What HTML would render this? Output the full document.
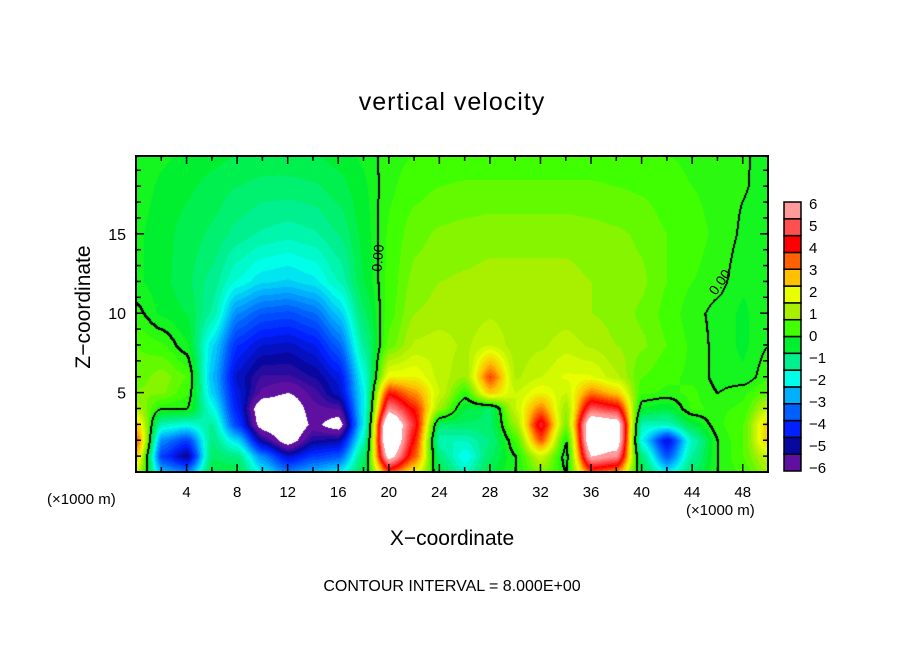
<!DOCTYPE html>
<html><head><meta charset="utf-8">
<style>
body{margin:0;background:#fff;width:904px;height:654px;overflow:hidden;position:relative;font-family:"Liberation Sans","DejaVu Sans",sans-serif}
.t{position:absolute;white-space:nowrap;color:#000}
canvas{position:absolute;left:136px;top:156px}
svg{position:absolute;left:0;top:0}
</style></head><body>
<div class="t" style="left:0;width:904px;text-align:center;top:88px;font-size:25px;letter-spacing:1px">vertical velocity</div>
<canvas id="cv" width="632" height="316"></canvas>
<svg id="sv" width="904" height="654"></svg>
<div class="t" style="left:24px;top:300px;font-size:21px;transform:rotate(-90deg);transform-origin:60px 12px;width:130px;text-align:center">Z−coordinate</div>
<div class="t" style="left:0;width:904px;text-align:center;top:527px;font-size:21px">X−coordinate</div>
<div class="t" style="left:47px;top:491px;font-size:15px">(×1000 m)</div>
<div class="t" style="left:686px;top:502px;font-size:15px">(×1000 m)</div>
<div class="t" style="left:0;width:904px;text-align:center;top:578px;font-size:16px">CONTOUR INTERVAL = 8.000E+00</div>
<div class="t" style="left:364px;top:250px;font-size:14px;transform:rotate(-85deg)">0.00</div>
<div class="t" style="left:706px;top:274px;font-size:14px;transform:rotate(-55deg)">0.00</div>
<script>
const xCols=[0,2,4,6,8,10,12,14,16,18,20,22,24,26,28,30,32,34,36,38,40,42,44,46,48,50];
const zRows=[0,1,2,3,4,5,6,8,10,12,15,18,20];
const field=[
[1.5,-2.5,-3,-0.5,-0.5,-2,-3,-2.5,-2,-0.5,3.5,2,-0.5,-1.5,-0.5,0,0.8,0,3.5,3,-0.5,-2,-0.8,0,0.3,1],
[2.5,-3.8,-5,-0.8,-1,-3,-4.5,-3.8,-3.5,-0.8,6.5,3.5,-1,-2,-0.8,0,1.5,-0.2,6,5.5,-1,-3.5,-1.2,0,0.5,1.5],
[3.5,-3,-3.8,-1,-2.2,-5,-6.5,-5,-4.8,-1.5,7.8,4,-1.5,-1.5,-1,0.3,3.5,0,7.2,6.8,-2,-4.5,-1.5,0,0.5,2.5],
[2.5,-1.5,-1.8,-1.2,-3.8,-6.5,-7.2,-5.8,-6.5,-2,7.8,4.5,-0.8,-0.8,-0.8,1,4.5,0.8,7.2,6.8,-1.5,-1.5,-0.5,0.2,0.5,2.5],
[1.2,0,0,-1.8,-4.2,-6.8,-6.8,-5.6,-5.5,-2,5.5,4,1,-0.5,-0.8,1.5,3.2,1,5,4.5,-0.3,-0.5,0.3,0.2,0.3,1.5],
[0.8,0.8,0.3,-2.3,-4.4,-5.6,-6,-5.4,-4.6,-2,4,3,1.5,0.2,2.5,1.5,2,1.5,3.2,2.5,0.3,0.2,0.3,0,0.2,0.6],
[0.6,0.9,0.5,-2.5,-4.6,-5.3,-5.3,-5,-4.4,-1.8,2,2,1.4,1,3.6,1.2,1.5,1.8,1.8,1.3,0.5,0.3,0.2,-0.1,-0.2,0.2],
[0.5,0.3,-0.2,-2.2,-4,-4.5,-4.6,-4.3,-3.4,-1.2,0.6,1.3,1.4,1.2,1.5,1.1,1.2,1.4,1.2,1,0.8,0.5,0.2,-0.1,-0.3,0],
[0.1,-0.3,-0.5,-1.3,-3,-3.5,-3.6,-3.3,-2.4,-0.8,0.4,1,1.1,1.1,1.2,1.1,1.1,1.1,1,0.9,0.7,0.4,0.1,-0.1,-0.3,0],
[-0.2,-0.4,-0.7,-1.1,-1.8,-2.2,-2.3,-2.1,-1.5,-0.5,0.35,0.85,1,1.05,1.1,1.1,1.1,1.1,1,0.95,0.8,0.5,0.25,0.1,-0.2,-0.2],
[-0.2,-0.4,-0.6,-0.8,-1.1,-1.3,-1.4,-1.3,-1,-0.4,0.3,0.65,0.8,0.85,0.9,0.9,0.9,0.9,0.85,0.8,0.7,0.5,0.35,0.2,-0.05,-0.2],
[-0.1,-0.3,-0.45,-0.6,-0.75,-0.85,-0.85,-0.8,-0.6,-0.3,0.2,0.4,0.5,0.55,0.55,0.55,0.55,0.55,0.55,0.5,0.45,0.35,0.25,0.15,0.02,-0.1],
[0,-0.2,-0.3,-0.4,-0.5,-0.55,-0.55,-0.5,-0.4,-0.2,0.15,0.25,0.3,0.3,0.3,0.3,0.3,0.3,0.3,0.3,0.3,0.25,0.2,0.12,0.03,-0.1]
];
const levelColors=['#6010a0','#0808a0','#0020ff','#0060ff','#00b0ff','#00ffe8','#00f090','#00f030','#40ff00','#a8f000','#e8ff00','#ffc000','#ff6000','#ff0000','#ff5050','#ff9a9a'];
const cbLabels=['6','5','4','3','2','1','0','−1','−2','−3','−4','−5','−6'];
const xTickLabels=['4','8','12','16','20','24','28','32','36','40','44','48'];
const yTickLabels=['5','10','15'];
const X0=136,X1=768,Y0=156,Y1=472,XMAX=50,ZMAX=19.9;
const sx=x=>X0+(x/XMAX)*(X1-X0), sz=z=>Y1-(z/ZMAX)*(Y1-Y0);
function hex(c){return [parseInt(c.substr(1,2),16),parseInt(c.substr(3,2),16),parseInt(c.substr(5,2),16)];}
const rgb=levelColors.map(hex);
function colorOf(v){
  if(v>6||v<-6)return [255,255,255];
  let p=(v+6)/0.75-0.5;
  p=Math.round(p*3)/3;
  let i=Math.floor(p),t=p-i;
  if(i<0)return rgb[0]; if(i>=15)return rgb[15];
  const a=rgb[i],b=rgb[i+1];
  return [a[0]+(b[0]-a[0])*t,a[1]+(b[1]-a[1])*t,a[2]+(b[2]-a[2])*t];
}
function val(x,z){
  let fx=x/2; let i=Math.min(Math.floor(fx),xCols.length-2); let tx=fx-i;
  let j=0; while(j<zRows.length-2 && z>zRows[j+1]) j++;
  let tz=Math.max(0,Math.min(1,(z-zRows[j])/(zRows[j+1]-zRows[j])));
  tx=tx*tx*(3-2*tx)*0.5+tx*0.5;
  const a=field[j][i],b=field[j][i+1],c=field[j+1][i],d=field[j+1][i+1];
  return (a*(1-tx)+b*tx)*(1-tz)+(c*(1-tx)+d*tx)*tz;
}
const cv=document.getElementById('cv'),ctx=cv.getContext('2d');
const W=632,H=316,img=ctx.createImageData(W,H),V=new Float32Array(W*H);
for(let py=0;py<H;py++)for(let px=0;px<W;px++){V[py*W+px]=val(px/W*XMAX,(H-py)/H*ZMAX);}
for(let k=0;k<W*H;k++){
  const c=colorOf(V[k]);
  img.data[k*4]=c[0];img.data[k*4+1]=c[1];img.data[k*4+2]=c[2];img.data[k*4+3]=255;
}
function mark(k){img.data[k*4]=0;img.data[k*4+1]=0;img.data[k*4+2]=0;}
for(let py=0;py<H-1;py++)for(let px=0;px<W-1;px++){
  const k=py*W+px,v=V[k],r=V[k+1],d=V[k+W];
  if((v>=0)!=(r>=0)||(v>=0)!=(d>=0)){mark(k);mark(k+1);mark(k+W);}
  for(const L of [8,-8]){if((v>=L)!=(r>=L)||(v>=L)!=(d>=L))mark(k);}
}
ctx.putImageData(img,0,0);
const sv=document.getElementById('sv'),NS='http://www.w3.org/2000/svg';
function el(t,a,txt){const e=document.createElementNS(NS,t);for(const k in a)e.setAttribute(k,a[k]);if(txt!==undefined)e.textContent=txt;sv.appendChild(e);return e;}
let fr=el('rect',{x:X0,y:Y0,width:X1-X0,height:Y1-Y0,fill:'none',stroke:'#000','stroke-width':2});


for(let x=2;x<50;x+=2){
  const len=(x%4==0)?8:5;
  el('line',{x1:sx(x),x2:sx(x),y1:Y1,y2:Y1-len,stroke:'#000','stroke-width':1.5});
  el('line',{x1:sx(x),x2:sx(x),y1:Y0,y2:Y0+len,stroke:'#000','stroke-width':1.5});
}
for(let z=1;z<20;z++){
  const len=(z%5==0)?8:5;
  el('line',{x1:X0,x2:X0+len,y1:sz(z),y2:sz(z),stroke:'#000','stroke-width':1.5});
  el('line',{x1:X1,x2:X1-len,y1:sz(z),y2:sz(z),stroke:'#000','stroke-width':1.5});
}
xTickLabels.forEach(s=>{
  const t=el('text',{x:sx(+s),y:Y1+25,'font-size':15,'text-anchor':'middle','font-family':'Liberation Sans, sans-serif'},s);
  
  
});
yTickLabels.forEach(s=>{
  const t=el('text',{x:126,y:sz(+s)+6,'font-size':16,'text-anchor':'end','font-family':'Liberation Sans, sans-serif'},s);
  
  
});
const cbTop=202,cbBot=471,cbX=784,cbW=17,nb=levelColors.length;
const bh=(cbBot-cbTop)/nb;
for(let i=0;i<nb;i++){
  const r=el('rect',{x:cbX,y:cbTop+(nb-1-i)*bh,width:cbW,height:bh,fill:levelColors[i],stroke:'#000','stroke-width':1.5});
  
  
}
cbLabels.forEach((s,i)=>{
  const t=el('text',{x:809,y:203+i*(467-203)/12+6,'font-size':15,'font-family':'Liberation Sans, sans-serif'},s);
  
  
});
</script>
</body></html>
